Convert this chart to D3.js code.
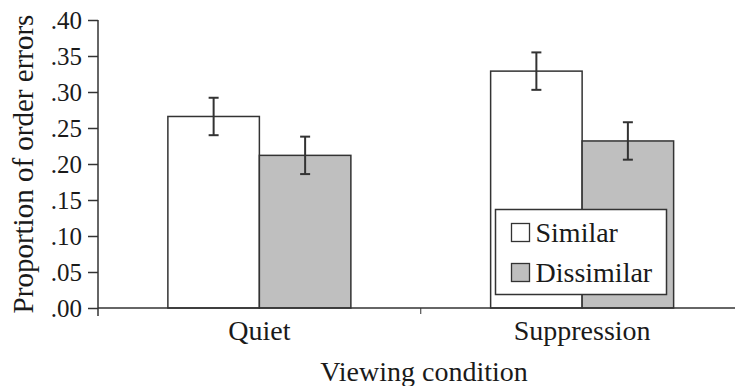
<!DOCTYPE html>
<html>
<head>
<meta charset="utf-8">
<script src="https://cdn.jsdelivr.net/npm/d3@7"></script>
<style>
  body { margin: 0; background: #fff; }
  svg { display: block; font-family: "Liberation Serif", "Times New Roman", serif; }
</style>
</head>
<body>
<svg id="chart" width="735" height="386"></svg>
<script>
// data
const conditions = ["Quiet", "Suppression"];
const series = ["Similar", "Dissimilar"];
const similarValues = [0.266, 0.329];
const dissimilarValues = [0.212, 0.232];
const similarErrors = [0.026, 0.026];
const dissimilarErrors = [0.026, 0.026];
const yTicks = [0, 0.05, 0.10, 0.15, 0.20, 0.25, 0.30, 0.35, 0.40];
const fills = ["#ffffff", "#bfbfbf"];

let svg = d3.select("#chart");
let ink = "#333";
let textInk = "#1a1a1a";

let y = d3.scaleLinear().domain([0, 0.40]).range([308, 20]);

let x = d3.scaleBand().domain(conditions).range([98, 743.5])
    .paddingInner(0.433).paddingOuter(0.2165);
let xSub = d3.scaleBand().domain(series).range([0, x.bandwidth()]);

// flatten into rows for drawing
let rows = [];
conditions.forEach((c, i) => {
    rows.push({cond: c, s: "Similar", v: similarValues[i], e: similarErrors[i]});
    rows.push({cond: c, s: "Dissimilar", v: dissimilarValues[i], e: dissimilarErrors[i]});
});

// bars
svg.append("g").selectAll("rect")
    .data(rows)
    .join("rect")
    .attr("x", d => x(d.cond) + xSub(d.s))
    .attr("y", d => y(d.v))
    .attr("width", xSub.bandwidth())
    .attr("height", d => y(0) - y(d.v))
    .style("fill", d => fills[series.indexOf(d.s)])
    .style("stroke", ink)
    .style("stroke-width", 1.5);

// error bars
let err = svg.append("g").selectAll("g")
    .data(rows)
    .join("g")
    .attr("transform", d => "translate(" + (x(d.cond) + xSub(d.s) + xSub.bandwidth() / 2) + ",0)")
    .style("stroke", ink)
    .style("stroke-width", 2);
err.append("line")
    .attr("y1", d => y(d.v + d.e)).attr("y2", d => y(d.v - d.e));
err.append("line")
    .attr("x1", -5).attr("x2", 5)
    .attr("y1", d => y(d.v + d.e)).attr("y2", d => y(d.v + d.e));
err.append("line")
    .attr("x1", -5).attr("x2", 5)
    .attr("y1", d => y(d.v - d.e)).attr("y2", d => y(d.v - d.e));

// y axis
let yAxis = d3.axisLeft(y).tickValues(yTicks)
    .tickFormat(d => d3.format(".2f")(d).replace(/^0/, ""))
    .tickSize(10).tickPadding(6);
let yg = svg.append("g").attr("transform", "translate(98,0)").call(yAxis);
yg.select(".domain").attr("d", "M0,20V316");
yg.selectAll(".tick text").style("font-size", "25px").attr("dy", "0.34em");

// x axis
let xAxis = d3.axisBottom(x).tickSize(0).tickPadding(12);
let xg = svg.append("g").attr("transform", "translate(0,308)").call(xAxis);
xg.select(".domain").attr("d", "M98,0H735");
xg.selectAll(".tick line").remove();
xg.selectAll(".tick text").style("font-size", "28px");
// separator ticks between groups
xg.selectAll(".sep")
    .data([x.step() + 98])
    .join("line")
    .attr("x1", d => d).attr("x2", d => d)
    .attr("y1", 0).attr("y2", 6)
    .style("stroke", ink);

svg.selectAll(".domain, .tick line").style("stroke", ink).style("stroke-width", 1.5);
svg.selectAll(".tick text").style("fill", textInk)
    .style("font-family", "Liberation Serif");

// axis titles
svg.append("text")
    .attr("transform", "translate(33,164) rotate(-90)")
    .attr("text-anchor", "middle")
    .style("font-size", "29px").style("fill", textInk)
    .text("Proportion of order errors");

svg.append("text")
    .attr("x", 424).attr("y", 381)
    .attr("text-anchor", "middle")
    .style("font-size", "28px").style("fill", textInk)
    .text("Viewing condition");

// legend
let legend = svg.append("g").attr("transform", "translate(495.5,209.5)");
legend.append("rect")
    .attr("width", 171).attr("height", 85)
    .style("fill", "#fff").style("stroke", ink).style("stroke-width", 1.5);
let items = legend.selectAll(".item")
    .data(series)
    .join("g")
    .attr("transform", (d, i) => "translate(16," + (14 + i * 40) + ")");
items.append("rect")
    .attr("width", 18).attr("height", 18)
    .style("fill", (d, i) => fills[i])
    .style("stroke", ink).style("stroke-width", 1.3);
items.append("text")
    .attr("x", 24).attr("y", 18)
    .style("font-size", "28px").style("fill", textInk)
    .text(d => d);
</script>
</body>
</html>
